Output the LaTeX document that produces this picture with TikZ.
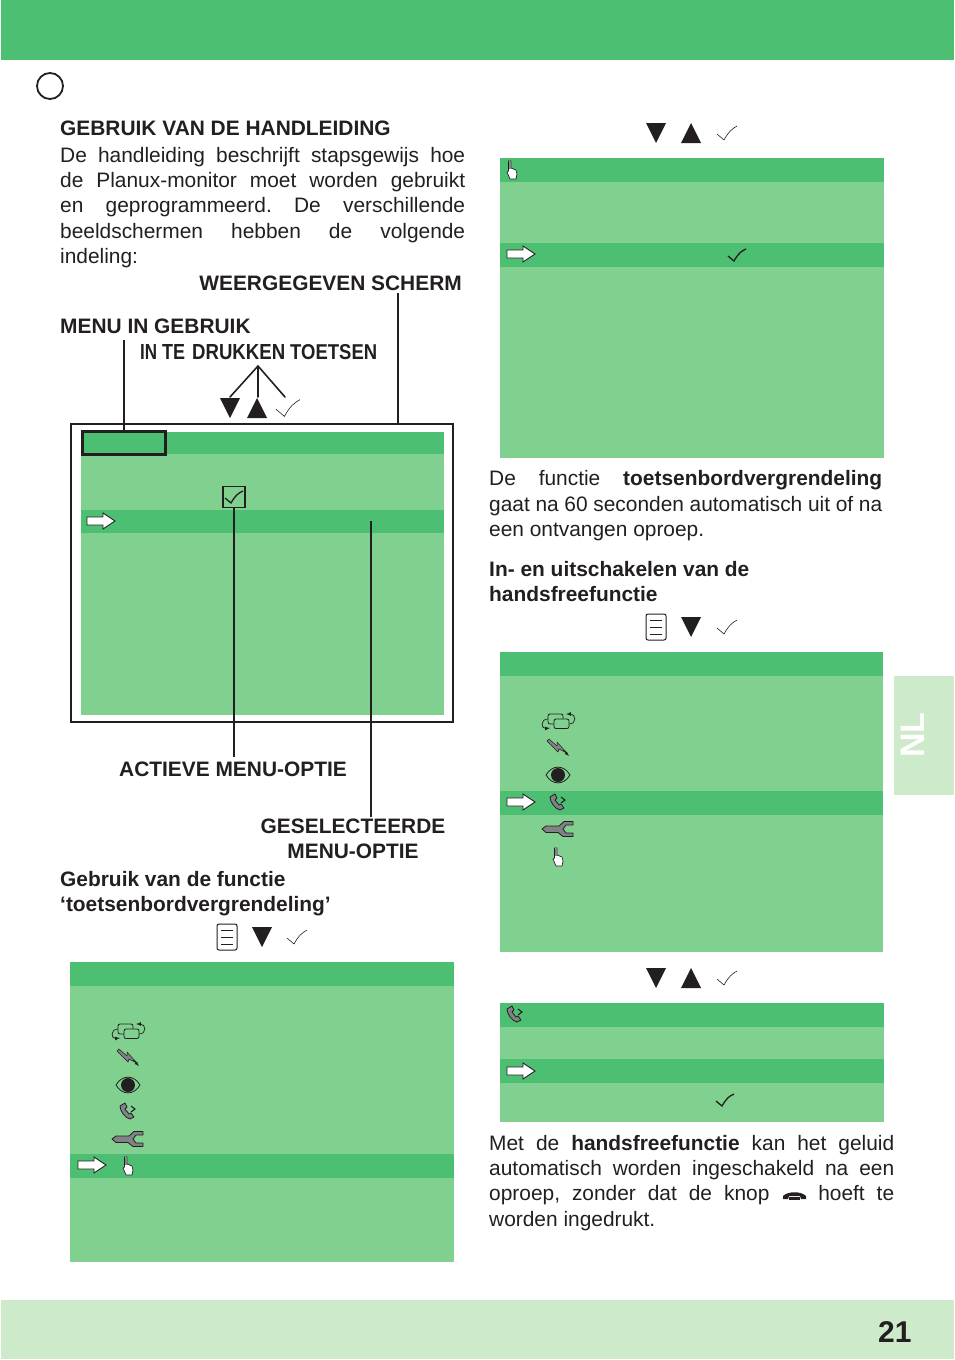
\documentclass[tikz,border=0pt]{standalone}
\usepackage{graphicx}
\usepackage{fontspec}
\setmainfont{Liberation Sans}
\definecolor{gdark}{HTML}{4CBF73}
\definecolor{glight}{HTML}{80D18F}
\definecolor{gpale}{HTML}{CDEBCB}
\definecolor{ink}{HTML}{231F20}
\definecolor{wgrey}{HTML}{808285}
\newcommand{\jl}[2]{\hbox to #1pt{#2}}
\newcommand{\sep}{\hfill}
\newcommand{\cond}[2]{\resizebox{#1pt}{15pt}{#2}}
\tikzset{
  x=1pt,y=-1pt,
  body/.style={anchor=base west,inner sep=0pt,text=ink,font=\fontsize{20.9}{25}\selectfont},
  head/.style={body,font=\fontsize{20.9}{25}\selectfont\bfseries},
  centerhead/.style={head,anchor=base},
  lead/.style={draw=ink,line width=2pt},
  thinlead/.style={draw=ink,line width=1.6pt},
  pics/tdown/.style={code={\fill[ink] (-10,-10)--(10,-10)--(0,10)--cycle;}},
  pics/tup/.style={code={\fill[ink] (-10,10)--(10,10)--(0,-10)--cycle;}},
  pics/tick/.style={code={\draw[ink,line width=.6pt] (-10,1) -- (-3,7) .. controls (2,-2) and (5,-4) .. (10,-7);}},
  pics/bigtick/.style={code={\draw[ink,line width=1.3pt] (-9,1) -- (-3,6) .. controls (1,-1) and (4,-4) .. (9,-6);}},
  pics/doc/.style={code={
     \draw[ink,fill=white,line width=1pt,rounded corners=2pt] (-10,-13) rectangle (10,13);
     \draw[ink,line width=.8pt] (-6,-7)--(6,-7) (-6,0)--(6,0) (-6,7)--(6,7);}},
  pics/rarrow/.style={code={\draw[ink,fill=white,line width=.9pt] (-14,-4)--(2,-4)--(2,-8)--(14,0)--(2,8)--(2,4)--(-14,4)--cycle;}},
  pics/hand/.style={code={\draw[ink,fill=white,line width=.7pt,line join=round] (-3.5,-9) -- (-1,-9) -- (-1,-2) -- (4,0) -- (5,4) -- (4,9) -- (-2,9) -- (-5,2) -- (-3.5,1) -- cycle;
     \fill[wgrey] (-3,-8.5) rectangle (-1.5,-1);}},
  pics/swap/.style={code={
     \draw[ink,line width=.8pt,rounded corners=2pt] (-10,-7) rectangle (5,3);
     \draw[ink,fill=glight,line width=.8pt,rounded corners=2pt] (-4,-2) rectangle (11,7.5);
     \draw[ink,line width=.7pt,-latex] (-10,-2) .. controls (-18,-2) and (-17,8) .. (-8,7);
     \draw[ink,line width=.7pt,-latex] (11,3) .. controls (19,3) and (18,-7) .. (8,-7);}},
  pics/bolt/.style={code={\draw[ink,fill=wgrey,line width=.5pt,line join=round] (-11,-7)--(-9,-9)--(-1,-2)--(-1,-6)--(9,5)--(1,1)--(0,4)--cycle;
     \draw[ink,line width=.6pt,-latex] (5,2)--(11,8);}},
  pics/eye/.style={code={\draw[ink,fill=glight,line width=.8pt] (-12,0) .. controls (-6,-10.5) and (6,-10.5) .. (12,0) .. controls (6,10.5) and (-6,10.5) .. (-12,0) -- cycle;
     \fill[ink] (0,0) circle (7);}},
  pics/phone/.style={code={\draw[ink,fill=wgrey,line width=.8pt,line join=round] (-8,-5) -- (-3,-8) -- (-1,-4) -- (-3,-2) -- (1,3) -- (3,2) -- (6,6) -- (2,8) .. controls (-3,7) and (-8,0) .. (-8,-5) -- cycle;
     \draw[ink,line width=1.1pt] (3,-5)--(7,-2)--(3,1);}},
  pics/wrench/.style={code={\draw[ink,fill=wgrey,line width=.8pt,line join=round] (-16,0) -- (-12,-3) -- (1,-3) -- (6,-7.5) -- (15,-7.5) -- (15,-4) -- (8,-4) -- (5,0) -- (8,4) -- (15,4) -- (15,7.5) -- (5,7.5) -- (0,3.5) -- (-12,3.5) -- cycle;}},
}
\begin{document}
\begin{tikzpicture}
\useasboundingbox (0,0) rectangle (954,1360);
% page bands
\fill[gdark] (1,0) rectangle (954,60);
\fill[gpale] (1,1300) rectangle (954,1359);
\fill[gpale] (894,676) rectangle (954,795);
\node[rotate=90,text=white,font=\fontsize{34}{34}\selectfont\bfseries,inner sep=0pt] (nl) at (913,735) {NL};
\node[body] (pagenum) at (878,1342) {\fontsize{30}{32}\selectfont\bfseries 21};
\node[draw=ink,line width=1.8pt,circle,minimum size=26pt,inner sep=0pt] (disc) at (50,86) {};

% left column text
\node[head] (t1) at (60,135) {GEBRUIK VAN DE HANDLEIDING};
\node[body] (t2) at (60,162) {\jl{405}{De\sep handleiding\sep beschrijft\sep stapsgewijs\sep hoe}};
\node[body] (t3) at (60,187) {\jl{405}{de\sep Planux-monitor\sep moet\sep worden\sep gebruikt}};
\node[body] (t4) at (60,212) {\jl{405}{en\sep geprogrammeerd.\sep De\sep verschillende}};
\node[body] (t5) at (60,238) {\jl{405}{beeldschermen\sep hebben\sep de\sep volgende}};
\node[body] (t6) at (60,263) {indeling:};
\node[head,anchor=base east] (weer) at (462,290) {WEERGEGEVEN SCHERM};
\node[head] (menu) at (60,333) {MENU IN GEBRUIK};
\node[head] (druk) at (140,359) {\hbox{\cond{17}{IN}\kern5pt\cond{23}{TE}\kern7pt\cond{93}{DRUKKEN}\kern5pt\cond{87}{TOETSEN}}};

% annotated screen
\node[draw=ink,line width=2.5pt,minimum width=382pt,minimum height=298pt,inner sep=0pt] (frame) at (262,573) {};
\fill[glight] (81,432) rectangle (444,715);
\fill[gdark] (81,432) rectangle (444,454);
\fill[gdark] (81,510) rectangle (444,533);
\node[draw=ink,line width=2.2pt,minimum width=83pt,minimum height=23pt,inner sep=0pt] (menubox) at (124,443) {};
\node[draw=ink,line width=1.6pt,minimum width=22pt,minimum height=21pt,inner sep=0pt] (optbox) at (234,497) {};
\pic at (234,497) {bigtick};
\pic at (101,521) {rarrow};
\pic at (230,408) {tdown};
\pic at (257,408) {tup};
\pic[scale=1.2] at (288,408) {tick};
\coordinate (apex) at (258,366);
\coordinate (fanA) at (230,397);
\coordinate (fanB) at (258,397);
\coordinate (fanC) at (285,397);
\draw[thinlead,line cap=round] (fanA)--(apex)--(fanC) (apex)--(fanB);
\coordinate (menutop) at (124,340);
\draw[lead] (menutop)--(menubox.north);
\coordinate (schermtop) at (398,293);
\coordinate (framehit) at (398,424);
\draw[lead] (schermtop)--(framehit);
\node[head] (actief) at (119,776) {ACTIEVE MENU-OPTIE};
\coordinate (actieftop) at (234,757);
\draw[lead] (optbox.south)--(actieftop);
\coordinate (seltop) at (371,521);
\coordinate (selend) at (371,817);
\draw[lead] (seltop)--(selend);
\node[centerhead] (gesel) at (353,833) {GESELECTEERDE};
\node[centerhead] (gesel2) at (353,858) {MENU-OPTIE};

\node[head] (f1) at (60,886) {Gebruik van de functie};
\node[head] (f2) at (60,911) {‘toetsenbordvergrendeling’};

% screen 2
\pic at (227,937) {doc};
\pic at (262,937) {tdown};
\pic at (297,937) {tick};
\fill[glight] (70,962) rectangle (454,1262);
\fill[gdark] (70,962) rectangle (454,986);
\fill[gdark] (70,1154) rectangle (454,1178);
\pic at (128,1031) {swap};
\pic at (128,1058) {bolt};
\pic at (128,1085) {eye};
\pic at (128,1111) {phone};
\pic at (128,1139) {wrench};
\pic at (92,1165) {rarrow};
\pic at (128,1166) {hand};

% screen 3
\pic at (656,133) {tdown};
\pic at (691,133) {tup};
\pic at (727,133) {tick};
\fill[glight] (500,158) rectangle (884,458);
\fill[gdark] (500,158) rectangle (884,182);
\fill[gdark] (500,243) rectangle (884,267);
\pic at (512,170) {hand};
\pic at (521,254) {rarrow};
\pic at (737,255) {bigtick};

\node[body] (r1) at (489,485) {\jl{393}{De\sep functie\sep \textbf{toetsenbordvergrendeling}}};
\node[body] (r2) at (489,511) {\jl{393}{gaat\sep na\sep 60\sep seconden\sep automatisch\sep uit\sep of\sep na}};
\node[body] (r3) at (489,536) {een ontvangen oproep.};
\node[head] (r4) at (489,576) {In- en uitschakelen van de};
\node[head] (r5) at (489,601) {handsfreefunctie};

% screen 4
\pic at (656,627) {doc};
\pic at (691,627) {tdown};
\pic at (727,627) {tick};
\fill[glight] (500,652) rectangle (883,952);
\fill[gdark] (500,652) rectangle (883,676);
\fill[gdark] (500,791) rectangle (883,815);
\pic at (558,721) {swap};
\pic at (558,748) {bolt};
\pic at (558,775) {eye};
\pic at (558,802) {phone};
\pic at (558,829) {wrench};
\pic at (558,857) {hand};
\pic at (521,802) {rarrow};

% screen 5
\pic at (656,978) {tdown};
\pic at (691,978) {tup};
\pic at (727,978) {tick};
\fill[glight] (500,1003) rectangle (884,1122);
\fill[gdark] (500,1003) rectangle (884,1027);
\fill[gdark] (500,1059) rectangle (884,1083);
\pic at (515,1014) {phone};
\pic at (521,1071) {rarrow};
\pic at (725,1100) {bigtick};

\node[body] (b1) at (489,1150) {\jl{405}{Met\sep de\sep \textbf{handsfreefunctie}\sep kan\sep het\sep geluid}};
\node[body] (b2) at (489,1175) {\jl{405}{automatisch\sep worden\sep ingeschakeld\sep na\sep een}};
\node[body] (b3) at (489,1200) {\jl{405}{oproep,\sep zonder\sep dat\sep de\sep knop\sep\hspace{25pt}\sep hoeft\sep te}};
\node[body] (b4) at (489,1226) {worden ingedrukt.};
\fill[ink] (783,1199) -- (783,1196) .. controls (788,1191) and (801,1191) .. (806,1196) -- (806,1199) -- (801,1199) -- (800,1196) -- (789,1196) -- (788,1199) -- cycle;
\fill[ink] (789,1197) rectangle (800,1200);
\end{tikzpicture}
\end{document}
